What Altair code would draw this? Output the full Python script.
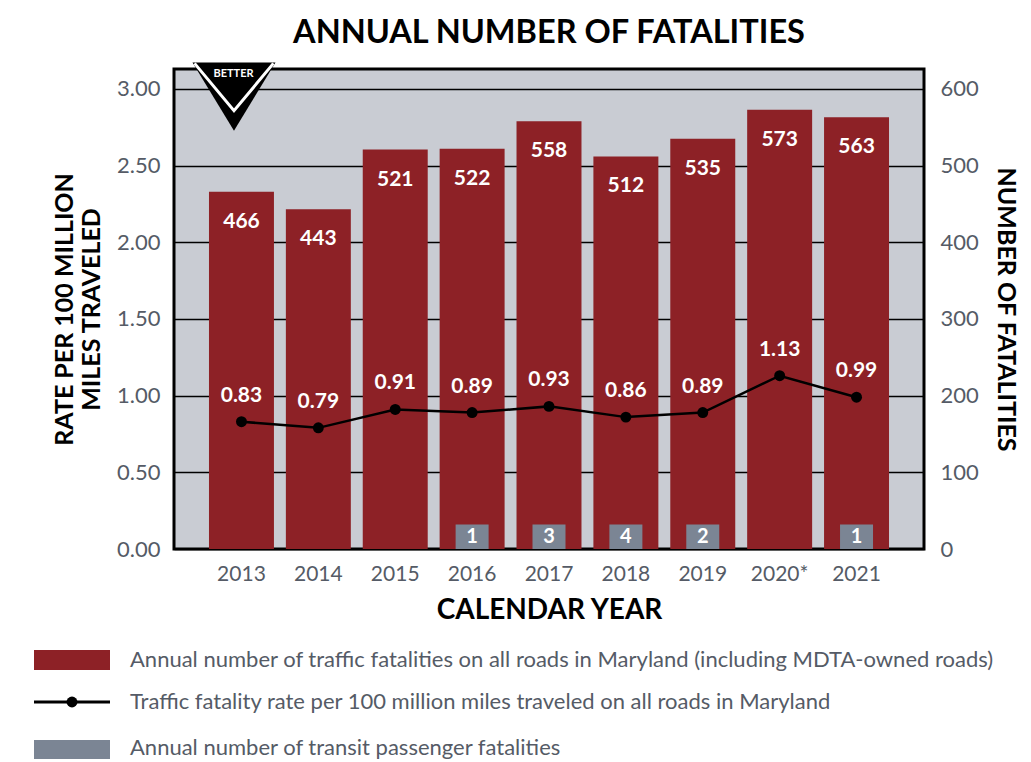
import altair as alt
import pandas as pd

# ---------------- data ----------------
years = ["2013", "2014", "2015", "2016", "2017", "2018", "2019", "2020*", "2021"]
fatalities = [466, 443, 521, 522, 558, 512, 535, 573, 563]
rates = [0.83, 0.79, 0.91, 0.89, 0.93, 0.86, 0.89, 1.13, 0.99]
transit = [None, None, None, 1, 3, 4, 2, 0, 1]

rate_ticks = [0, 0.5, 1.0, 1.5, 2.0, 2.5, 3.0]
count_ticks = [0, 100, 200, 300, 400, 500, 600]

legend_labels = [
    "Annual number of traffic fatalities on all roads in Maryland (including MDTA-owned roads)",
    "Traffic fatality rate per 100 million miles traveled on all roads in Maryland",
    "Annual number of transit passenger fatalities",
]

df = pd.DataFrame({"year": years, "fatalities": fatalities, "rate": rates, "transit": transit})

FONT = "Lato, Roboto, sans-serif"
RED = "#8d2126"
GRAY = "#7b8594"
BG = "#c9ccd3"
TXT = "#555b66"

RATE_MAX = 3.13
COUNT_MAX = RATE_MAX * 200

x_axis = alt.Axis(
    title="CALENDAR YEAR",
    labelAngle=0,
    domain=False,
    ticks=False,
    labelPadding=14,
    labelFontSize=21,
    labelColor=TXT,
    labelFont=FONT,
    titleFont=FONT,
    titleFontSize=28,
    titleFontWeight="bold",
    titleColor="black",
    titlePadding=12,
)
x_scale = alt.Scale(paddingInner=0.155, paddingOuter=0.455)

def X():
    return alt.X("year:N", sort=years, scale=x_scale, axis=x_axis)

count_axis = alt.Axis(
    orient="right",
    title="NUMBER OF FATALITIES",
    values=count_ticks,
    grid=False,
    domain=False,
    ticks=False,
    labelPadding=16,
    labelFontSize=22,
    labelColor=TXT,
    labelFont=FONT,
    titleFont=FONT,
    titleFontSize=25,
    titleFontWeight="bold",
    titleColor="black",
    titlePadding=14,
)
rate_axis = alt.Axis(
    orient="left",
    title=["RATE PER 100 MILLION", "MILES TRAVELED"],
    values=rate_ticks,
    format=".2f",
    grid=True,
    gridColor="black",
    gridWidth=1.5,
    domain=False,
    ticks=False,
    labelPadding=14,
    labelFontSize=22,
    labelColor=TXT,
    labelFont=FONT,
    titleFont=FONT,
    titleFontSize=25,
    titleFontWeight="bold",
    titleColor="black",
    titleLineHeight=27,
    titlePadding=12,
)

count_scale = alt.Scale(domain=[0, COUNT_MAX], nice=False)
rate_scale = alt.Scale(domain=[0, RATE_MAX], nice=False)

base = alt.Chart(df)

# ---------- count (right axis) group ----------
bars = base.mark_bar(color=RED).encode(
    x=X(),
    y=alt.Y("fatalities:Q", scale=count_scale, axis=count_axis),
)
bar_labels = base.mark_text(
    color="white", font=FONT, fontWeight="bold", fontSize=21, baseline="middle", dy=30
).encode(
    x=X(),
    y=alt.Y("fatalities:Q", scale=count_scale, axis=count_axis),
    text="fatalities:Q",
)
count_group = alt.layer(bars, bar_labels)

# ---------- rate (left axis) group ----------
def YR(field):
    return alt.Y(field, scale=rate_scale, axis=rate_axis)

line = base.mark_line(color="black", strokeWidth=2.5).encode(x=X(), y=YR("rate:Q"))
points = base.mark_point(filled=True, color="black", size=120, opacity=1).encode(
    x=X(), y=YR("rate:Q")
)
rate_labels = base.mark_text(
    color="white", font=FONT, fontWeight="bold", fontSize=21, baseline="middle", dy=-26
).encode(
    x=X(), y=YR("rate:Q"), text=alt.Text("rate:Q", format=".2f")
)

transit_src = base.transform_filter("datum.transit > 0").transform_calculate(
    t0="0", t1="0.16", tm="0.08"
)
transit_bars = transit_src.mark_bar(color=GRAY, size=33).encode(
    x=X(), y=YR("t0:Q"), y2="t1:Q"
)
transit_labels = transit_src.mark_text(
    color="white", font=FONT, fontWeight="bold", fontSize=20, baseline="middle"
).encode(x=X(), y=YR("tm:Q"), text="transit:Q")

# "BETTER" badge
badge_df = pd.DataFrame({"year": ["2013"], "rate": [2.95], "t_rate": [3.10], "t": ["BETTER"]})
badge = alt.Chart(badge_df)
tri = badge.mark_point(
    shape="M-1,-0.82 L1,-0.82 L0,0.82 Z", filled=True, fill="black",
    strokeWidth=0, size=6889, opacity=1,
).encode(x=X(), y=YR("rate:Q"), xOffset=alt.value(25))
vee = badge.mark_point(
    shape="M-0.95,-0.8 L0,0.34 L0.95,-0.8", filled=False, stroke="white",
    strokeWidth=3, size=6889, opacity=1,
).encode(x=X(), y=YR("rate:Q"), xOffset=alt.value(25))
better_txt = badge.mark_text(
    color="white", font=FONT, fontWeight="bold", fontSize=11, baseline="middle", dx=-8
).encode(x=X(), y=YR("t_rate:Q"), text="t:N")

rate_group = alt.layer(line, points, rate_labels, transit_bars, transit_labels, tri, vee, better_txt)

# ---------- manual legend (below the plot) ----------
def one(label):
    return alt.Data(values=[{"label": label}])

leg_red = alt.Chart(one(legend_labels[0])).mark_rect(color=RED).encode(
    x=alt.value(-140), x2=alt.value(-64), y=alt.value(581), y2=alt.value(601)
)
leg_line = alt.Chart(one(legend_labels[1])).mark_rule(color="black", strokeWidth=3).encode(
    x=alt.value(-140), x2=alt.value(-64), y=alt.value(633)
)
leg_dot = alt.Chart(one(legend_labels[1])).mark_point(filled=True, color="black", size=120, opacity=1).encode(
    x=alt.value(-102), y=alt.value(633)
)
leg_gray = alt.Chart(one(legend_labels[2])).mark_rect(color=GRAY).encode(
    x=alt.value(-140), x2=alt.value(-64), y=alt.value(671), y2=alt.value(690)
)
leg_text = []
for lab, yy in zip(legend_labels, [591, 633, 679]):
    leg_text.append(
        alt.Chart(one(lab)).mark_text(
            align="left", baseline="middle", font=FONT, fontSize=22, color=TXT
        ).encode(x=alt.value(-44), y=alt.value(yy), text="label:N")
    )

legend_group = alt.layer(leg_red, leg_line, leg_dot, leg_gray, *leg_text)

chart = (
    alt.layer(count_group, rate_group, legend_group)
    .resolve_scale(y="independent")
    .properties(
        width=750,
        height=480,
        padding={"left": 24, "top": 8, "right": 4, "bottom": 0},
        background="white",
        title=alt.TitleParams(
            "ANNUAL NUMBER OF FATALITIES",
            font=FONT,
            fontSize=32.5,
            fontWeight="bold",
            color="black",
            anchor="middle",
            frame="group",
            offset=8,
        ),
    )
    .configure_view(fill=BG, stroke="black", strokeWidth=3)
)

chart.save("out.html", embed_options={"renderer": "svg", "actions": False})
